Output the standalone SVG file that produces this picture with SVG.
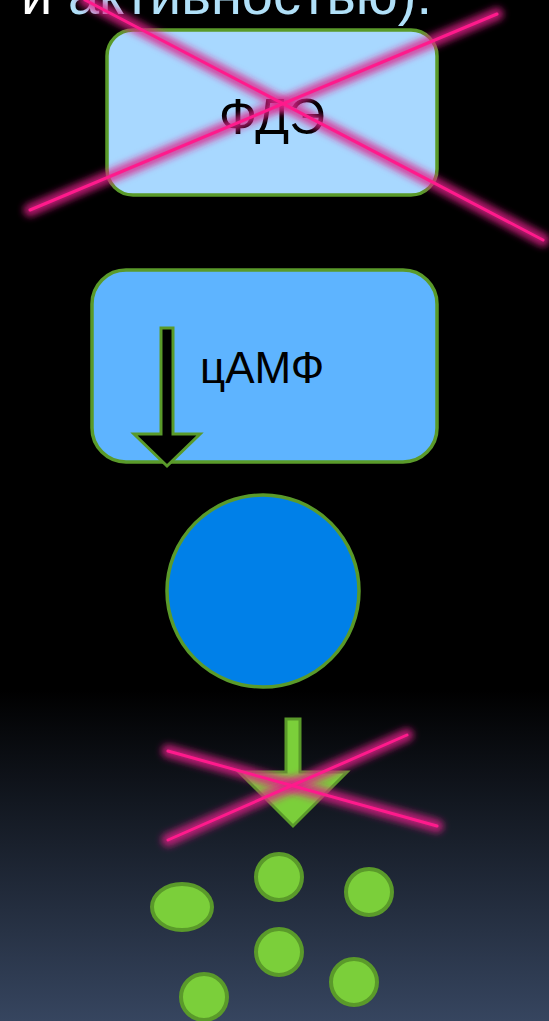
<svg xmlns="http://www.w3.org/2000/svg" width="549" height="1021" viewBox="0 0 549 1021">
<defs>
<linearGradient id="bg" gradientUnits="userSpaceOnUse" x1="0" y1="690" x2="0" y2="1021">
<stop offset="0" stop-color="#000000"/>
<stop offset="1" stop-color="#36455f"/>
</linearGradient>
<filter id="glow" x="-20%" y="-50%" width="140%" height="200%">
<feGaussianBlur stdDeviation="3.5"/>
</filter>
<style>
.node{stroke:#5a9a2a;stroke-width:3.5}
.lbl{font-family:"Liberation Sans","DejaVu Sans",sans-serif;fill:#000}
.glow{stroke:#e0208a;stroke-width:13;stroke-opacity:0.8;stroke-linecap:round;filter:url(#glow)}
.cross{stroke:#ff1a8c;stroke-width:3;stroke-linecap:round}
.pill{fill:#7bcf3a;stroke:#5a9a2a;stroke-width:4}
</style>
</defs>
<rect x="0" y="0" width="549" height="1021" fill="#000"/>
<rect x="0" y="690" width="549" height="331" fill="url(#bg)"/>
<text x="432" y="14" text-anchor="end" font-family="Liberation Sans, DejaVu Sans, sans-serif" font-size="56"><tspan fill="#ffffff">и </tspan><tspan fill="#b0e0f8">активностью):</tspan></text>
<g id="pde">
<rect class="node" x="107" y="30" width="330" height="165" rx="26" fill="#a8d8ff"/>
<text class="lbl" x="272" y="134" text-anchor="middle" font-size="50">ФДЭ</text>
</g>
<g id="camp">
<rect class="node" x="92" y="270" width="345" height="192" rx="34" fill="#5eb4ff"/>
<text class="lbl" x="200" y="383" font-size="44">цАМФ</text>
<polygon points="161,328 173,328 173,434 200,434 167,466 134,434 161,434" fill="#000" stroke="#5a9a2a" stroke-width="3"/>
</g>
<g id="pka">
<circle class="node" cx="263" cy="591" r="96" fill="#0080e8" stroke-width="4"/>
</g>
<g id="connectors">
<polygon points="286,719 300,719 300,772 347,772 293,826 239,772 286,772" fill="#7bcf3a" stroke="#5a9a2a" stroke-width="3"/>
</g>
<g id="products">
<ellipse class="pill" cx="182" cy="907" rx="30" ry="23"/>
<circle class="pill" cx="279" cy="877" r="23"/>
<circle class="pill" cx="369" cy="892" r="23"/>
<circle class="pill" cx="279" cy="952" r="23"/>
<circle class="pill" cx="354" cy="982" r="23"/>
<circle class="pill" cx="204" cy="997" r="23"/>
</g>
<g id="crosses">
<line class="glow" x1="30" y1="210" x2="497" y2="14"/>
<line class="glow" x1="85" y1="0" x2="543" y2="240"/>
<line class="cross" x1="30" y1="210" x2="497" y2="14"/>
<line class="cross" x1="85" y1="0" x2="543" y2="240"/>
<line class="glow" x1="168" y1="751" x2="437" y2="826"/>
<line class="glow" x1="168" y1="840" x2="407" y2="735"/>
<line class="cross" x1="168" y1="751" x2="437" y2="826"/>
<line class="cross" x1="168" y1="840" x2="407" y2="735"/>
</g>
</svg>
